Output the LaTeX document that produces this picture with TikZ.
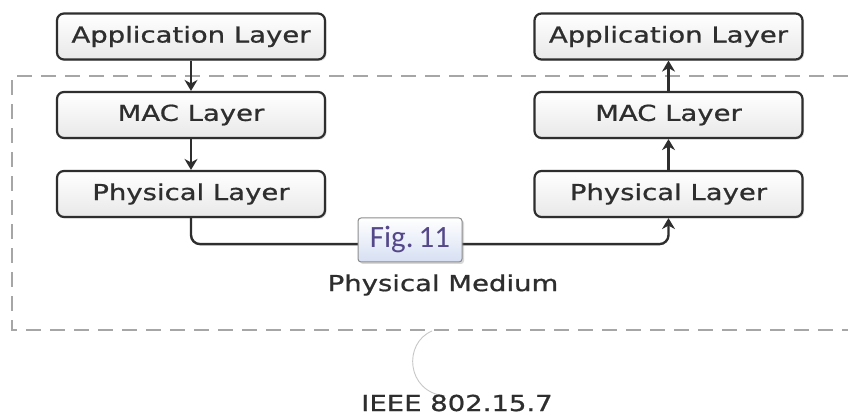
\documentclass[tikz,border=0pt]{standalone}
\usepackage{fontspec}
\setmainfont{DejaVu Sans}[FakeStretch=1.25,FakeBold=0.8]
\newfontfamily\figfont{Carlito}
\usetikzlibrary{arrows.meta,shadows}
\definecolor{inkgray}{HTML}{2E2E2E}
\definecolor{dashgray}{HTML}{A6A6A6}
\definecolor{figink}{HTML}{55488A}
\definecolor{figfill}{HTML}{D6DFF2}
\begin{document}
\begin{tikzpicture}[x=1pt,y=-1pt,
  layer/.style={draw=inkgray, line width=2.2pt, rounded corners=7pt,
    minimum width=268pt, minimum height=46pt, inner sep=0pt,
    top color=white, bottom color=black!9,
    drop shadow={shadow xshift=1.5pt, shadow yshift=-1.5pt, opacity=0.25},
    font=\fontsize{22}{26}\selectfont, text=inkgray},
  link/.style={line width=2.4pt, draw=inkgray,
    -{Stealth[length=11pt,width=13pt]}},
  figbox/.style={draw=black!45, line width=1pt, rounded corners=3pt,
    minimum width=104pt, minimum height=44pt, inner sep=0pt,
    top color=white, bottom color=figfill,
    drop shadow={shadow xshift=2pt, shadow yshift=-2pt, opacity=0.3},
    font=\figfont\fontsize{31}{33}\selectfont, text=figink},
  caption/.style={font=\fontsize{22}{26}\selectfont, text=inkgray},
]
\useasboundingbox (0,0) rectangle (848,419);
\fill[white] (0,0) rectangle (848,419);

% dashed frame around the lower layers
\draw[dashgray, line width=2pt, dash pattern=on 15pt off 9pt]
  (848,76) -- (12,76) -- (12,330) -- (848,330);

% thin arc below the frame
\coordinate (arcA) at (432,331);
\coordinate (arcB) at (445,396);
\draw[black!22, line width=0.9pt] (arcA) .. controls (403,343) and (406,392) .. (arcB);

% sender stack
\node[layer] (appL) at (191,36.5) {Application Layer};
\node[layer] (macL) at (191,115) {MAC Layer};
\node[layer] (phyL) at (191,194) {Physical Layer};

% receiver stack
\node[layer] (appR) at (668.5,36.5) {Application Layer};
\node[layer] (macR) at (668.5,115) {MAC Layer};
\node[layer] (phyR) at (668.5,194) {Physical Layer};

\draw[link] (appL) -- (macL);
\draw[link] (macL) -- (phyL);
\draw[link] (phyR) -- (macR);
\draw[link] (macR) -- (appR);

% physical medium link between the two physical layers
\path (phyL.south) ++(0,26) coordinate (bendL);
\path (phyR.south) ++(0,26) coordinate (bendR);
\draw[link, rounded corners=9pt] (phyL.south) -- (bendL) -- (bendR) -- (phyR.south);

\node[figbox] (fig) at (410,240) {Fig.\,11};
\node[caption] (medium) at (443,285) {Physical Medium};
\node[caption] (ieee) at (457,403) {IEEE 802.15.7};
\end{tikzpicture}
\end{document}
